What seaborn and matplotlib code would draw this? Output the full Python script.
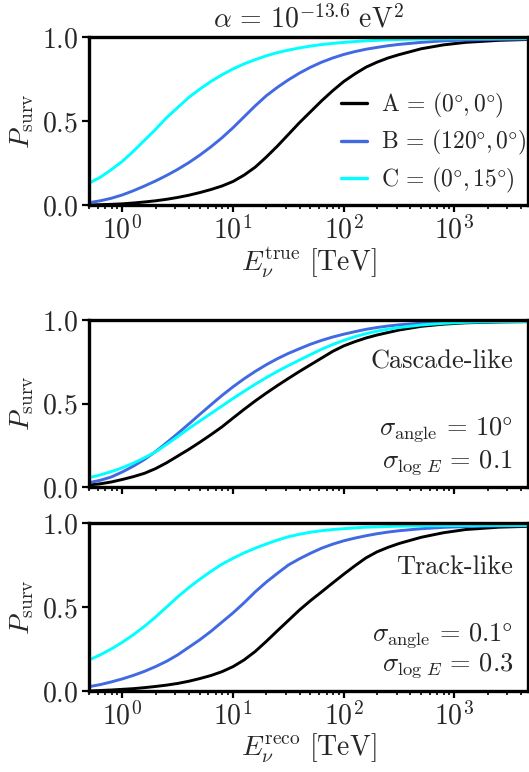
import numpy as np
import pandas as pd
import matplotlib
matplotlib.use("Agg")
import matplotlib.pyplot as plt
import seaborn as sns

# ---------------- data ----------------
series_names = [r"$\mathrm{A}\,=\,(0\degree,0\degree)$",
                r"$\mathrm{B}\,=\,(120\degree,0\degree)$",
                r"$\mathrm{C}\,=\,(0\degree,15\degree)$"]
colors = ["black", "royalblue", "cyan"]

# log10(E / TeV) sample positions
logE = [-0.3, -0.2, -0.1, 0.0, 0.1, 0.2, 0.3, 0.4, 0.5, 0.6, 0.7, 0.8, 0.9, 1.0,
        1.1, 1.2, 1.3, 1.4, 1.5, 1.6, 1.7, 1.8, 1.9, 2.0, 2.1, 2.2, 2.3, 2.4, 2.5,
        2.7, 2.9, 3.1, 3.4, 3.66]

# top panel (true energy)
top_A = [0.000, 0.002, 0.004, 0.007, 0.012, 0.018, 0.025, 0.034, 0.045, 0.058, 0.074, 0.092,
         0.113, 0.140, 0.178, 0.225, 0.285, 0.350, 0.420, 0.490, 0.555, 0.620, 0.680, 0.735,
         0.780, 0.820, 0.850, 0.875, 0.895, 0.930, 0.953, 0.968, 0.980, 0.985]
top_B = [0.014, 0.025, 0.040, 0.060, 0.085, 0.113, 0.143, 0.176, 0.212, 0.252, 0.297, 0.346,
         0.400, 0.460, 0.525, 0.590, 0.650, 0.700, 0.745, 0.785, 0.820, 0.850, 0.875, 0.896,
         0.913, 0.927, 0.938, 0.948, 0.956, 0.968, 0.977, 0.982, 0.986, 0.988]
top_C = [0.130, 0.165, 0.210, 0.260, 0.320, 0.385, 0.450, 0.520, 0.580, 0.640, 0.690, 0.735,
         0.775, 0.810, 0.840, 0.865, 0.888, 0.907, 0.922, 0.935, 0.946, 0.955, 0.962, 0.968,
         0.973, 0.977, 0.980, 0.983, 0.985, 0.988, 0.989, 0.990, 0.991, 0.991]

# middle panel (cascade-like)
mid_A = [0.012, 0.019, 0.030, 0.045, 0.062, 0.082, 0.110, 0.145, 0.185, 0.225, 0.268, 0.313,
         0.360, 0.413, 0.465, 0.515, 0.562, 0.607, 0.650, 0.692, 0.732, 0.772, 0.812, 0.845,
         0.870, 0.892, 0.910, 0.925, 0.940, 0.962, 0.975, 0.983, 0.988, 0.990]
mid_B = [0.026, 0.040, 0.060, 0.090, 0.125, 0.165, 0.212, 0.265, 0.320, 0.377, 0.435, 0.492,
         0.548, 0.600, 0.648, 0.692, 0.732, 0.768, 0.800, 0.828, 0.855, 0.878, 0.898, 0.915,
         0.930, 0.944, 0.955, 0.964, 0.971, 0.981, 0.987, 0.990, 0.992, 0.993]
mid_C = [0.056, 0.072, 0.092, 0.115, 0.143, 0.175, 0.210, 0.255, 0.302, 0.350, 0.395, 0.440,
         0.485, 0.530, 0.573, 0.615, 0.655, 0.692, 0.727, 0.760, 0.793, 0.825, 0.853, 0.878,
         0.900, 0.918, 0.933, 0.945, 0.955, 0.970, 0.980, 0.986, 0.990, 0.991]

# bottom panel (track-like)
bot_A = [0.000, 0.003, 0.006, 0.010, 0.014, 0.020, 0.027, 0.035, 0.045, 0.058, 0.074, 0.092,
         0.115, 0.145, 0.185, 0.235, 0.295, 0.358, 0.420, 0.482, 0.538, 0.590, 0.643, 0.695,
         0.745, 0.792, 0.828, 0.855, 0.878, 0.915, 0.942, 0.961, 0.975, 0.980]
bot_B = [0.026, 0.038, 0.054, 0.072, 0.093, 0.117, 0.145, 0.177, 0.215, 0.260, 0.305, 0.355,
         0.410, 0.465, 0.525, 0.590, 0.648, 0.700, 0.750, 0.787, 0.820, 0.850, 0.874, 0.894,
         0.910, 0.924, 0.936, 0.946, 0.954, 0.966, 0.974, 0.979, 0.983, 0.984]
bot_C = [0.185, 0.215, 0.250, 0.290, 0.335, 0.385, 0.440, 0.500, 0.560, 0.615, 0.665, 0.712,
         0.755, 0.790, 0.822, 0.850, 0.875, 0.898, 0.918, 0.933, 0.945, 0.954, 0.961, 0.966,
         0.971, 0.975, 0.977, 0.979, 0.981, 0.983, 0.984, 0.985, 0.986, 0.986]

panels = [[top_A, top_B, top_C], [mid_A, mid_B, mid_C], [bot_A, bot_B, bot_C]]

title_text = r"$\alpha\,=\,10^{-13.6}\ \mathrm{eV}^2$"
xlabel_true = r"$E_\nu^\mathrm{true}\ [\mathrm{TeV}]$"
xlabel_reco = r"$E_\nu^\mathrm{reco}\ [\mathrm{TeV}]$"
ylabel_text = r"$P_\mathrm{surv}$"
mid_texts = ["Cascade-like", r"$\sigma_\mathrm{angle}\,=\,10\degree$", r"$\sigma_{\log\,E}\,=\,0.1$"]
bot_texts = ["Track-like", r"$\sigma_\mathrm{angle}\,=\,0.1\degree$", r"$\sigma_{\log\,E}\,=\,0.3$"]
xtick_vals = [1, 10, 100, 1000]
xtick_labels = [r"$10^0$", r"$10^1$", r"$10^2$", r"$10^3$"]
ytick_vals = [0.0, 0.5, 1.0]
ytick_labels = [r"$0.0$", r"$0.5$", r"$1.0$"]

# ---------------- styling ----------------
sns.set_theme(style="ticks")
plt.rcParams["font.family"] = ["cmr10", "DejaVu Serif"]
plt.rcParams["mathtext.fontset"] = "cm"
plt.rcParams["axes.unicode_minus"] = False
FS = 20
FS_TXT = 19

fig = plt.figure(figsize=(5.29, 7.72), dpi=100)
W, H = 529, 772
left = 89 / W
right = 527.5 / W
rects = [(37, 205), (320, 487), (523, 691)]
axes = []
for (t, b) in rects:
    ax = fig.add_axes([left, 1 - b / H, right - left, (b - t) / H])
    axes.append(ax)

for i, ax in enumerate(axes):
    rows = []
    for name, vals in zip(series_names, panels[i]):
        for lx, p in zip(logE, vals):
            rows.append({"E": 10 ** lx, "P": p, "series": name})
    df = pd.DataFrame(rows)
    sns.lineplot(data=df, x="E", y="P", hue="series", palette=colors,
                 hue_order=series_names, ax=ax, linewidth=2.1, legend=(i == 0))
    ax.set_xscale("log")
    ax.set_xlim(0.5, 10 ** 3.66)
    ax.set_ylim(0, 1)
    ax.set_yticks(ytick_vals)
    ax.set_yticklabels(ytick_labels, fontsize=FS)
    ax.set_xticks(xtick_vals)
    if i == 1:
        ax.set_xticklabels([])
        ax.set_xlabel("")
    else:
        ax.set_xticklabels(xtick_labels, fontsize=FS)
        ax.set_xlabel(xlabel_true if i == 0 else xlabel_reco, fontsize=FS, labelpad=1)
    ax.set_ylabel(ylabel_text, fontsize=FS, labelpad=4)
    for s in ["top", "left", "bottom", "right"]:
        ax.spines[s].set_linewidth(2.4)
        ax.spines[s].set_color("black")
    ax.tick_params(axis="both", which="major", direction="out", length=5, width=1.6,
                   color="black", pad=3)
    ax.tick_params(axis="x", which="minor", direction="out", length=3, width=1.2,
                   color="black")
    ax.tick_params(axis="y", which="minor", left=False)

axes[0].set_title(title_text, fontsize=FS, pad=7)
leg = axes[0].legend(loc="center left", bbox_to_anchor=(0.575, 0.37), frameon=False,
                     fontsize=17, handlelength=1.1, handletextpad=0.6, labelspacing=0.35,
                     borderaxespad=0, borderpad=0)
for line in leg.get_lines():
    line.set_linewidth(2.4)

xr = (513 - 89) / (527.5 - 89)
for ax, texts, ys in [(axes[1], mid_texts, (0.707, 0.313, 0.118)),
                      (axes[2], bot_texts, (0.698, 0.302, 0.119))]:
    for txt, y in zip(texts, ys):
        ax.text(xr, y, txt, transform=ax.transAxes, ha="right", va="baseline",
                fontsize=FS_TXT)

fig.savefig("out.png", dpi=100)
